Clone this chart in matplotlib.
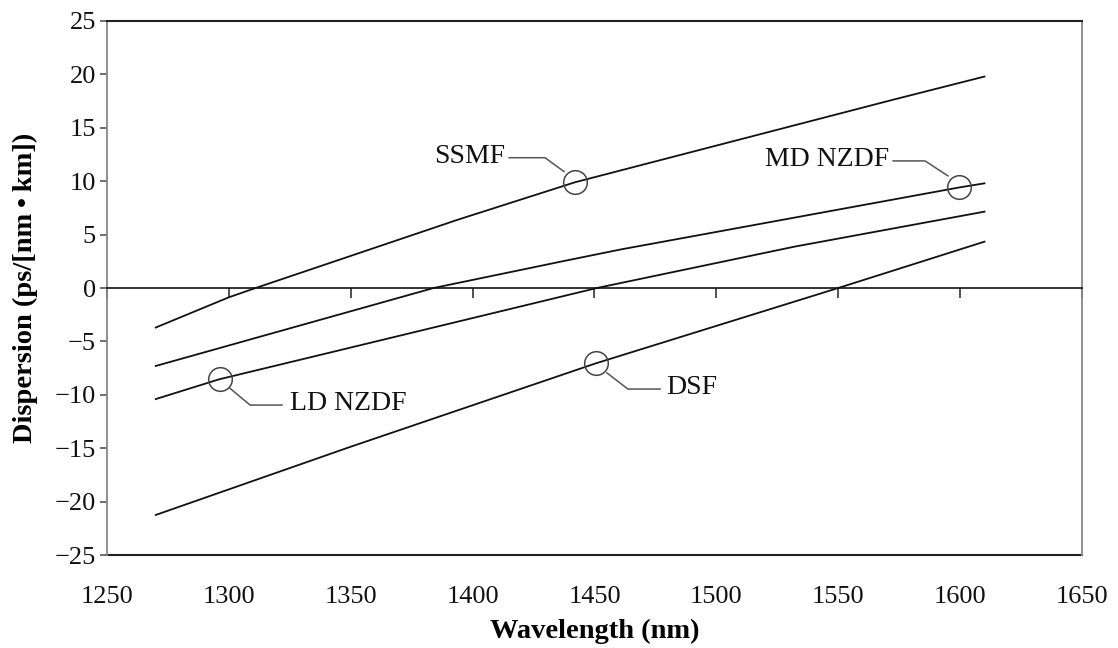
import matplotlib
matplotlib.use("Agg")
import matplotlib.pyplot as plt

plt.rcParams['font.family'] = ['Liberation Serif', 'DejaVu Serif']

# Data (wavelength in nm, dispersion in ps/[nm km])
ssmf_wl = [1270, 1300, 1311, 1394, 1442, 1572, 1610]
ssmf_d = [-3.7, -0.87, 0.0, 6.4, 9.9, 17.6, 19.8]

md_wl = [1270, 1384, 1436, 1461, 1600, 1610]
md_d = [-7.3, 0.0, 2.46, 3.62, 9.43, 9.8]

ld_wl = [1270, 1296, 1343, 1451, 1532, 1610]
ld_d = [-10.4, -8.55, -5.96, 0.0, 3.87, 7.15]

dsf_wl = [1270, 1350, 1450.6, 1550, 1610]
dsf_d = [-21.25, -14.86, -7.05, 0.0, 4.34]

# circle marker positions (wavelength, dispersion)
marker_wl = [1442, 1599.5, 1296.3, 1450.6]
marker_d = [9.9, 9.43, -8.55, -7.05]

labels = ["SSMF", "MD NZDF", "LD NZDF", "DSF"]
# leader polylines (data coords) and label anchors
leader_x = [[1415, 1429.7, 1437.5], [1572.5, 1585.6, 1595.0], [1300.5, 1308.7, 1321.8], [1455.1, 1463.7, 1476.9]]
leader_y = [[12.2, 12.2, 10.9], [11.9, 11.9, 10.5], [-9.4, -10.96, -10.96], [-7.95, -9.46, -9.46]]
label_x = [1413.5, 1571, 1325, 1479.5]
label_y = [12.3, 12.0, -10.8, -9.3]
label_ha = ["right", "right", "left", "left"]

xticks = [1250, 1300, 1350, 1400, 1450, 1500, 1550, 1600, 1650]
yticks = [-25, -20, -15, -10, -5, 0, 5, 10, 15, 20, 25]

fig = plt.figure(figsize=(11.18, 6.48), dpi=100)
ax = fig.add_axes([0.0957, 0.1435, 0.8721, 0.8241])

for wl, d in ((ssmf_wl, ssmf_d), (md_wl, md_d), (ld_wl, ld_d), (dsf_wl, dsf_d)):
    ax.plot(wl, d, color='#111111', lw=1.3, zorder=3)

ax.plot(marker_wl, marker_d, linestyle='none', marker='o', markersize=17,
        markerfacecolor='none', markeredgecolor='#444444', markeredgewidth=1.1, zorder=4)

for lx, ly, tx, ty, lab, ha in zip(leader_x, leader_y, label_x, label_y, labels, label_ha):
    ax.plot(lx, ly, color='#555555', lw=1.1, zorder=4)
    ax.text(tx, ty, lab, ha=ha, va='center', fontsize=20, color='#111111')

ax.set_xlim(1250, 1650)
ax.set_ylim(-25, 25)

# main bottom spine acts as zero axis
ax.spines['bottom'].set_position(('data', 0))
ax.spines['bottom'].set_color('#111111')
ax.spines['bottom'].set_linewidth(1.2)
ax.set_xticks(xticks)
ax.tick_params(axis='x', direction='out', length=7, width=1.2, color='#333333',
               labelbottom=False)

ax.spines['top'].set_color('#222222')
ax.spines['top'].set_linewidth(1.5)
ax.spines['left'].set_color('#888888')
ax.spines['left'].set_linewidth(1.3)
ax.spines['right'].set_color('#888888')
ax.spines['right'].set_linewidth(1.3)

ax.set_yticks(yticks)
ax.tick_params(axis='y', direction='out', length=5, width=1.2, color='#555555',
               labelsize=19, pad=3, labelcolor='#111111')

# bottom frame with tick labels
sec = ax.secondary_xaxis(0.0)
sec.set_xticks(xticks)
sec.tick_params(axis='x', length=0, labelsize=19, pad=22, labelcolor='#111111')
sec.spines['bottom'].set_color('#222222')
sec.spines['bottom'].set_linewidth(1.5)
sec.set_xlabel('Wavelength (nm)', fontsize=20.5, fontweight='bold', labelpad=8)

ax.set_ylabel('Dispersion (ps/[nm\u2009\u2022\u2009km])', fontsize=20.5, fontweight='bold', labelpad=12)

fig.savefig('out.png', dpi=100)
